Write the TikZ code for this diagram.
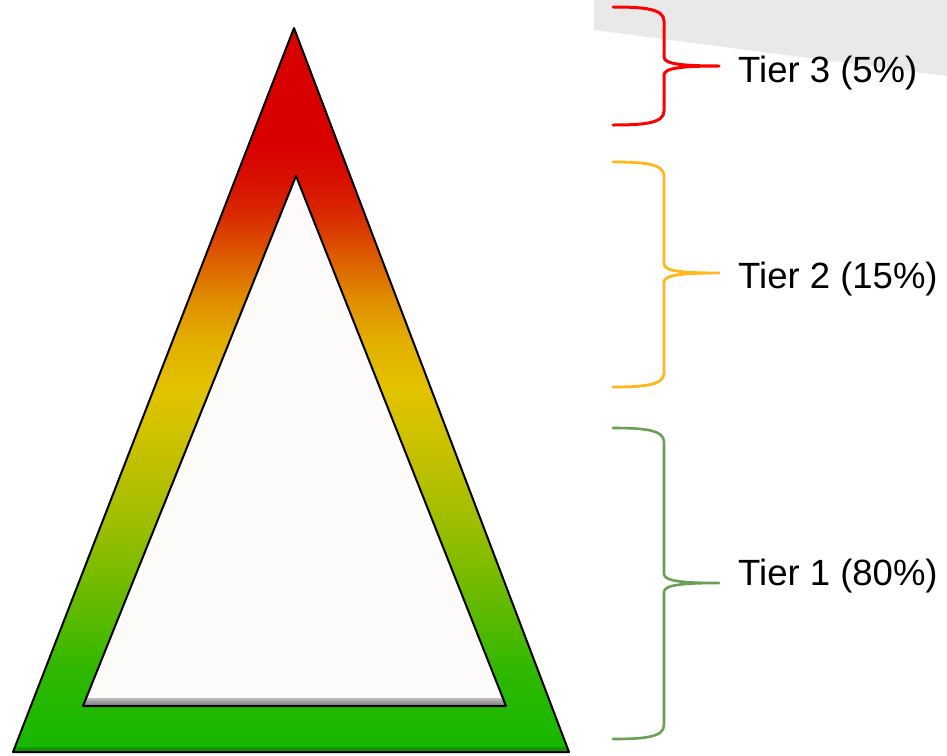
\documentclass[tikz,border=0pt]{standalone}
\usepackage{fontspec}
\setmainfont{Liberation Sans}

% colours of the ring, top to bottom
\definecolor{tred}{HTML}{D90000}
\definecolor{tr0}{HTML}{D81000}
\definecolor{tr1}{HTML}{D92A00}
\definecolor{to3}{HTML}{DD5F00}
\definecolor{to2}{HTML}{E08E00}
\definecolor{to1}{HTML}{E2AE00}
\definecolor{tyel}{HTML}{E2C300}
\definecolor{tg5}{HTML}{C8C100}
\definecolor{tg4}{HTML}{9FBE00}
\definecolor{tg3}{HTML}{66BA00}
\definecolor{tg2}{HTML}{30B800}
\definecolor{tgreenB}{HTML}{14B800}
\definecolor{bandgray}{HTML}{E9E9E9}
\definecolor{innerwhite}{HTML}{FCFBFA}
\definecolor{bracered}{HTML}{FF0000}
\definecolor{braceorange}{HTML}{FFB81C}
\definecolor{bracegreen}{HTML}{6AA056}

% vertical gradient, 0bp = bottom of the outer triangle, 25bp..75bp = its height
\pgfdeclareverticalshading{tiershade}{100bp}{%
  color(0bp)=(tgreenB); color(25bp)=(tgreenB); color(30.66bp)=(tg2);
  color(35.5bp)=(tg3); color(41bp)=(tg4); color(45.86bp)=(tg5);
  color(50bp)=(tyel); color(53.45bp)=(to1); color(56.2bp)=(to2);
  color(58.98bp)=(to3); color(62.1bp)=(tr1); color(64.5bp)=(tr0);
  color(67bp)=(tred); color(100bp)=(tred)}

\tikzset{
  tierlabel/.style={anchor=base west, inner sep=0pt, font=\fontsize{36.5}{40}\selectfont},
  bracepath/.style={line width=#1, line cap=round, line join=round},
}

% a curly brace: colour, width, top y, bottom y, tip y
\newcommand{\tierbrace}[5]{%
  \draw[bracepath=#2, draw=#1]
    (613,#3) .. controls (645,#3) and (664,#3+2) .. (664,#3+14)
    -- (664,#5-9) .. controls (664,#5-2) and (682,#5) .. (719,#5)
    .. controls (682,#5) and (664,#5+2) .. (664,#5+9)
    -- (664,#4-14) .. controls (664,#4-2) and (645,#4) .. (613,#4);
}

\begin{document}
\begin{tikzpicture}[x=1pt, y=-1pt]
\useasboundingbox (0,0) rectangle (947,755);

% grey band in the upper right corner
\fill[bandgray] (594,0) -- (947,0) -- (947,76) -- (594,30) -- cycle;

% outer triangle with its colour gradient
\coordinate (apexO) at (294,28);
\coordinate (leftO) at (13,752);
\coordinate (rightO) at (569,752);
\shade[shading=tiershade] (apexO) -- (rightO) -- (leftO) -- cycle;
% darker rim along the base
\fill[black!30!tgreenB, opacity=0.6] (14.5,747) -- (567,747) -- (rightO) -- (leftO) -- cycle;
\draw[line width=2pt, line join=round] (apexO) -- (rightO) -- (leftO) -- cycle;

% inner triangle
\coordinate (apexI) at (296,176);
\coordinate (leftI) at (83,706);
\coordinate (rightI) at (506,706);
\fill[innerwhite] (apexI) -- (rightI) -- (leftI) -- cycle;
% bevel along the inner base
\shade[top color=black!25, bottom color=black!55] (87,698) -- (502,698) -- (rightI) -- (leftI) -- cycle;
\draw[line width=2pt, line join=round] (apexI) -- (rightI) -- (leftI) -- cycle;

% labels
\node[tierlabel] (t3) at (738,82) {Tier 3 (5\%)};
\node[tierlabel] (t2) at (738,288) {Tier 2 (15\%)};
\node[tierlabel] (t1) at (738,585) {Tier 1 (80\%)};

% braces
\tierbrace{bracered}{3pt}{7}{125}{66}
\tierbrace{braceorange}{2.8pt}{162}{387}{273}
\tierbrace{bracegreen}{2.6pt}{428}{739}{583}
\end{tikzpicture}
\end{document}
